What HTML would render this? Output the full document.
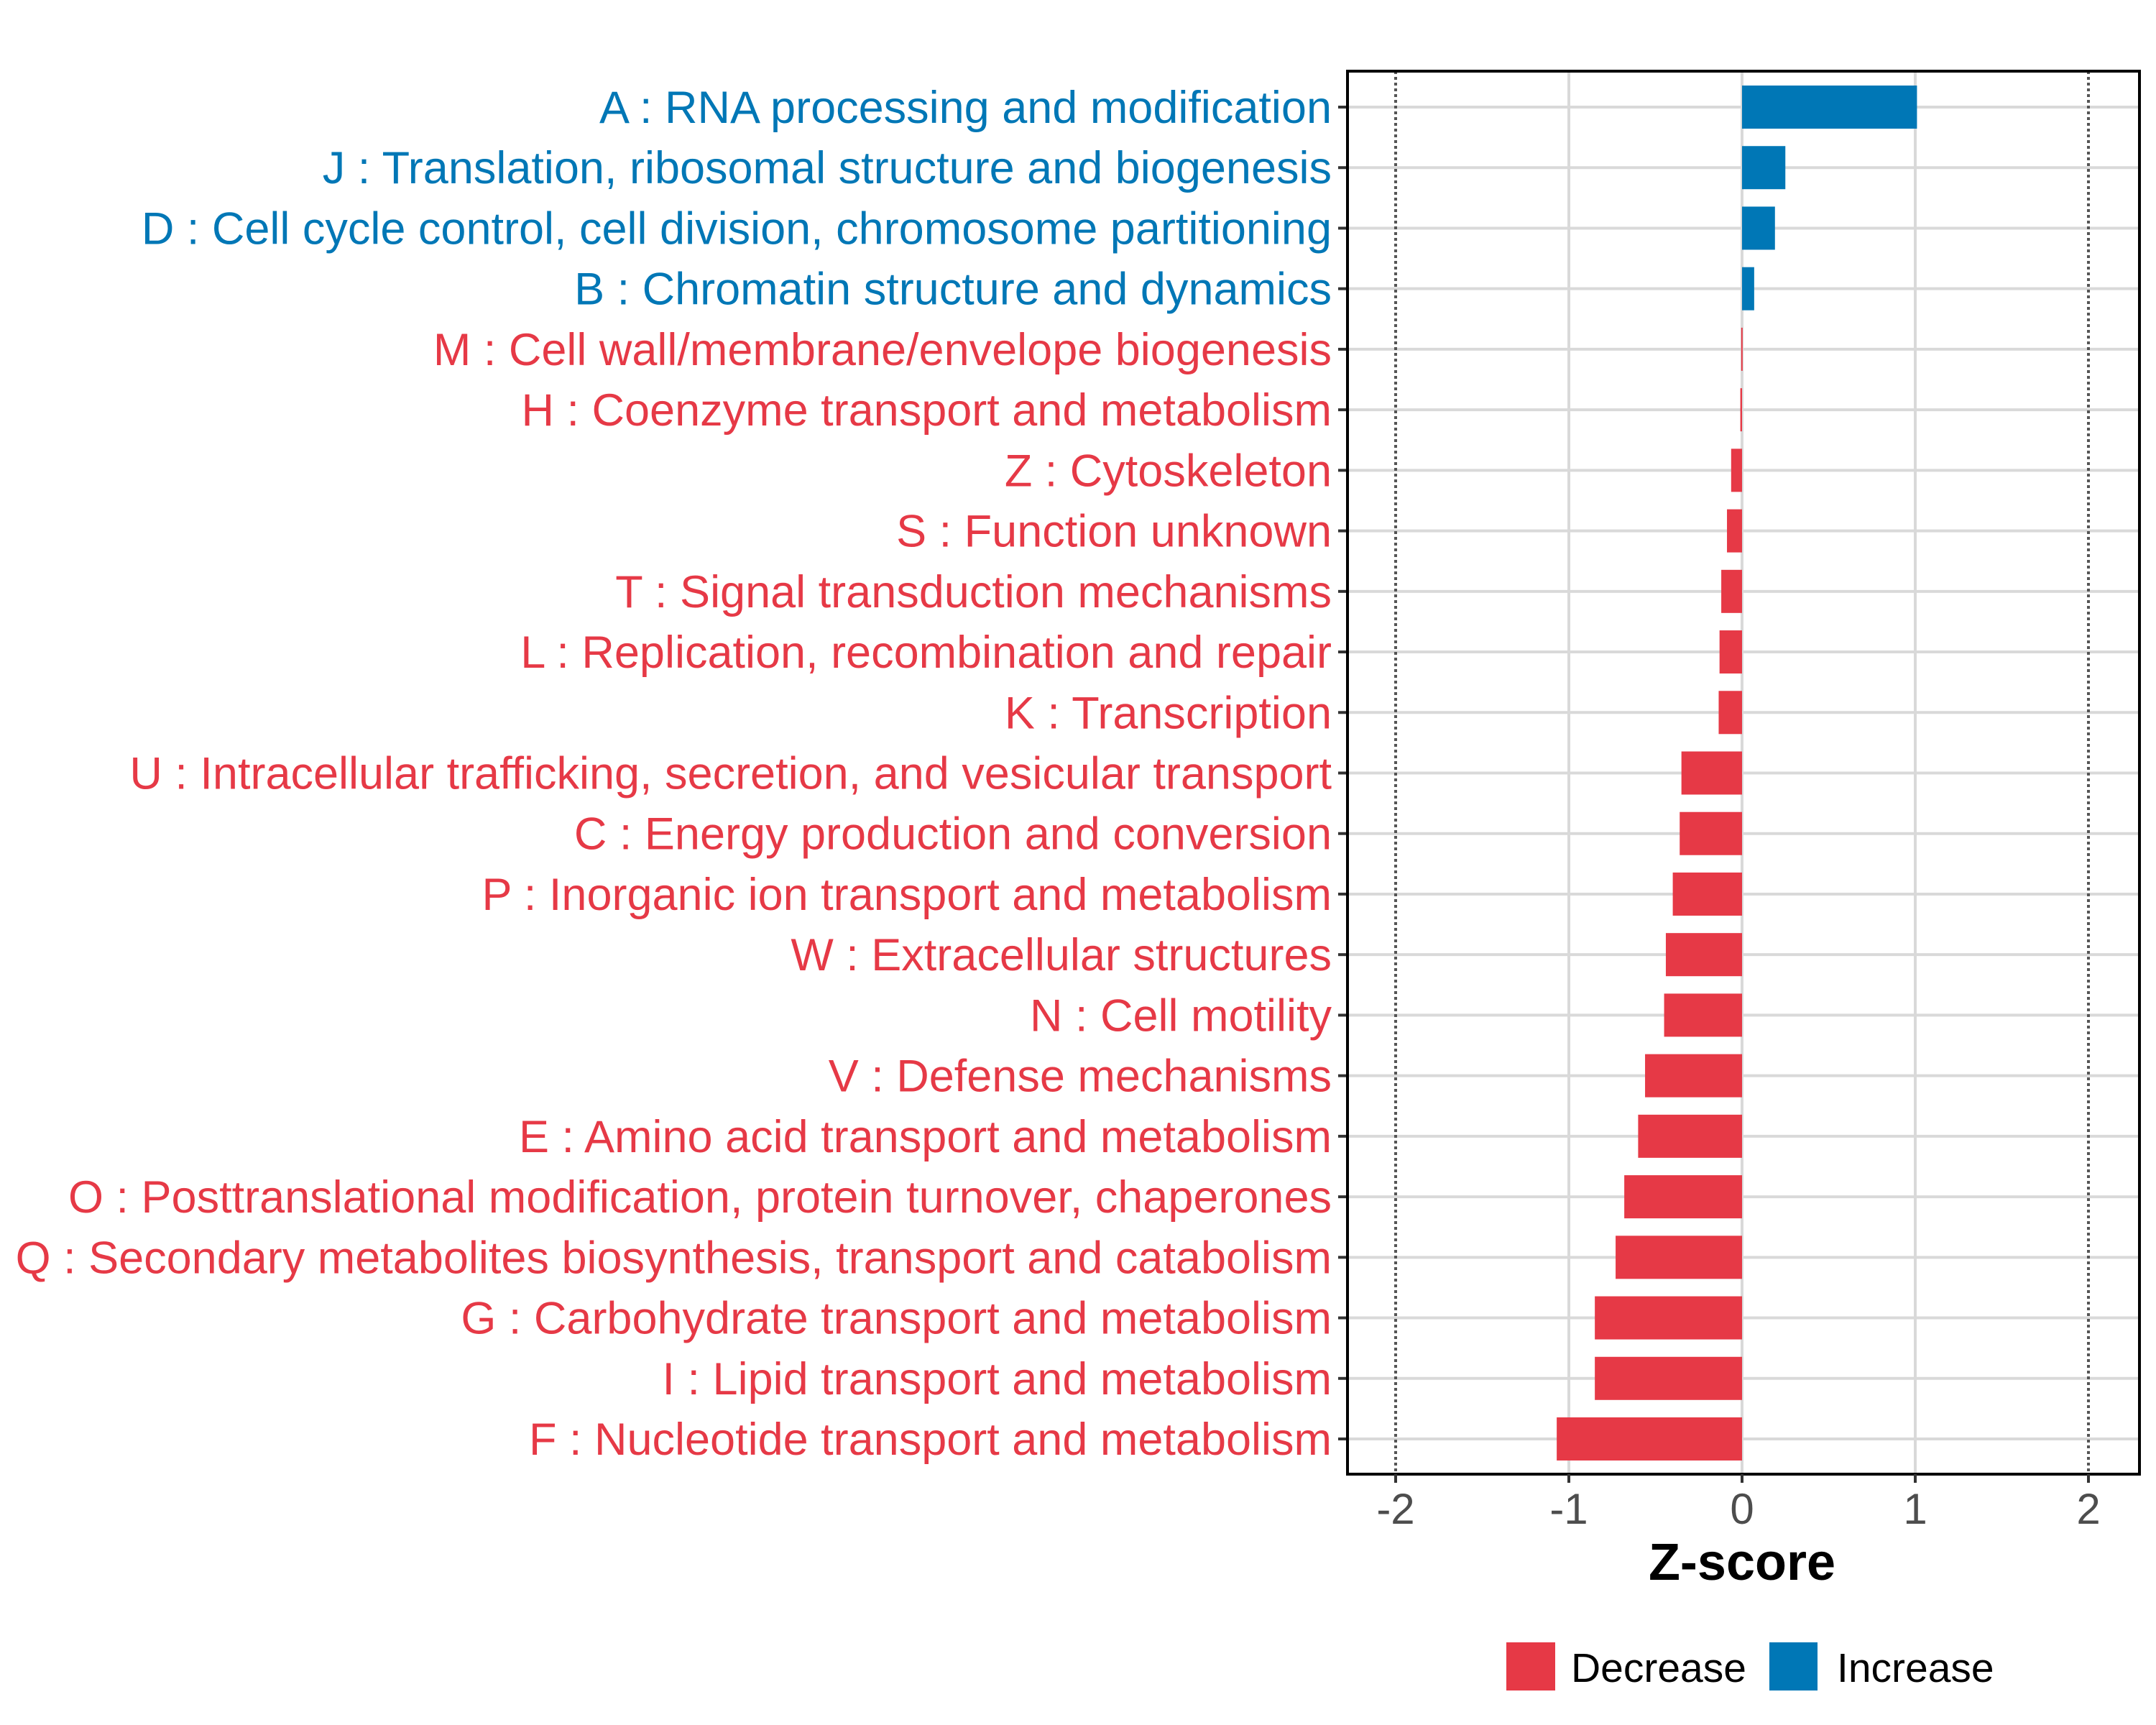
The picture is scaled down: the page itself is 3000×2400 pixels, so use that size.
<!DOCTYPE html>
<html><head><meta charset="utf-8"><style>
html,body{margin:0;padding:0;background:#fff;}
svg{display:block;font-family:"Liberation Sans",sans-serif;}
</style></head><body>
<svg id="chart" width="3000" height="2400" viewBox="0 0 3000 2400" xmlns="http://www.w3.org/2000/svg">
<g id="gridlayer"></g>
<g id="barlayer"></g>
<g id="axislayer"></g>
<g id="labellayer"></g>
<text x="2424" y="2198" text-anchor="middle" font-size="72" font-weight="bold" fill="#000">Z-score</text>
<g>
<g>
<rect x="2096" y="2285" width="68" height="67" fill="#E63946"/>
<text x="2186" y="2340" font-size="57" fill="#000">Decrease</text></g>
<g>
<rect x="2462" y="2285" width="67" height="67" fill="#0077B6"/>
<text x="2556" y="2340" font-size="57" fill="#000">Increase</text></g>
</g>
</svg>
<script>
var categories = ["A : RNA processing and modification","J : Translation, ribosomal structure and biogenesis","D : Cell cycle control, cell division, chromosome partitioning","B : Chromatin structure and dynamics","M : Cell wall/membrane/envelope biogenesis","H : Coenzyme transport and metabolism","Z : Cytoskeleton","S : Function unknown","T : Signal transduction mechanisms","L : Replication, recombination and repair","K : Transcription","U : Intracellular trafficking, secretion, and vesicular transport","C : Energy production and conversion","P : Inorganic ion transport and metabolism","W : Extracellular structures","N : Cell motility","V : Defense mechanisms","E : Amino acid transport and metabolism","O : Posttranslational modification, protein turnover, chaperones","Q : Secondary metabolites biosynthesis, transport and catabolism","G : Carbohydrate transport and metabolism","I : Lipid transport and metabolism","F : Nucleotide transport and metabolism"];
var zscores = [1.01,0.25,0.19,0.07,-0.005,-0.01,-0.063,-0.087,-0.12,-0.13,-0.135,-0.35,-0.36,-0.40,-0.44,-0.45,-0.56,-0.60,-0.68,-0.73,-0.85,-0.85,-1.07];
var xTicks = [-2,-1,0,1,2];
var xTickLabels = ["-2","-1","0","1","2"];
var SVGNS = "http://www.w3.org/2000/svg";
var PL = 1875, PR = 2977, PT = 99, PB = 2051;
function sx(v){ return 2424 + v*241; }
function sy(i){ return 149 + i*((2002-149)/22); }
var BARH = 60;
var RED = "#E63946", BLUE = "#0077B6";
function mk(tag, attrs, parent){
  var e = document.createElementNS(SVGNS, tag);
  for (var k in attrs) { e.setAttribute(k, String(attrs[k])); }
  parent.appendChild(e);
  return e;
}
var gridG = document.getElementById('gridlayer');
var barG = document.getElementById('barlayer');
var axisG = document.getElementById('axislayer');
var labelG = document.getElementById('labellayer');
var i, el;
for (i = 0; i < categories.length; i++) {
  el = mk('line', {x1:PL, x2:PR, y1:sy(i), y2:sy(i), stroke:"#d9d9d9", "stroke-width":4}, gridG);
  
  
}
var majors = [-1,0,1];
for (i = 0; i < majors.length; i++) {
  el = mk('line', {x1:sx(majors[i]), x2:sx(majors[i]), y1:PT, y2:PB, stroke:"#d9d9d9", "stroke-width":4}, gridG);
  
  
}
var thresholds = [-2,2];
for (i = 0; i < thresholds.length; i++) {
  el = mk('line', {x1:sx(thresholds[i]), x2:sx(thresholds[i]), y1:PT, y2:PB, stroke:"#555", "stroke-width":4, "stroke-dasharray":"4 4"}, gridG);
  
  
}
for (i = 0; i < zscores.length; i++) {
  try {
    var v = zscores[i];
    var x0 = Math.min(sx(0), sx(v));
    var w = Math.max(Math.abs(sx(v) - sx(0)), 2);
    var col = v >= 0 ? BLUE : RED;
    var r = mk('rect', {x:x0, y:sy(i)-BARH/2, width:w, height:BARH, fill:col}, barG);
    
    
    var t = mk('text', {x:1853, y:sy(i)+22, "text-anchor":"end", "font-size":63, fill:col}, labelG);
    t.textContent = categories[i];
    
    
    var tk = mk('line', {x1:1862, x2:PL, y1:sy(i), y2:sy(i), stroke:"#333", "stroke-width":4}, axisG);
    
    
  } catch (err) {}
}
var frame = mk('rect', {x:PL, y:PT, width:PR-PL, height:PB-PT, fill:"none", stroke:"#000", "stroke-width":4}, axisG);


for (i = 0; i < xTicks.length; i++) {
  try {
    var xt = mk('line', {x1:sx(xTicks[i]), x2:sx(xTicks[i]), y1:PB, y2:PB+12, stroke:"#333", "stroke-width":4}, axisG);
    
    
    var xl = mk('text', {x:sx(xTicks[i]), y:2120, "text-anchor":"middle", "font-size":60, fill:"#4d4d4d"}, axisG);
    xl.textContent = xTickLabels[i];
    
    
  } catch (err) {}
}
</script>
</body></html>
